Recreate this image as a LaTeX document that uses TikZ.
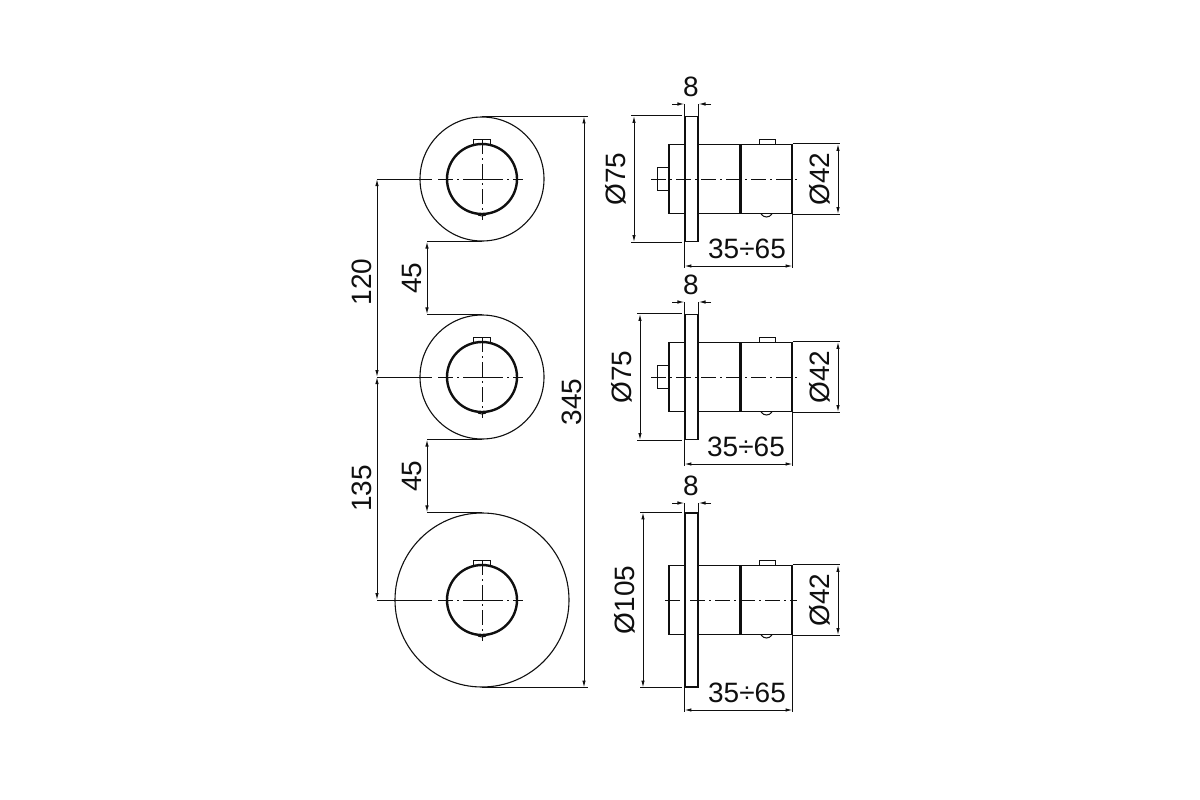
\documentclass[tikz,border=0pt]{standalone}
\usepackage{fontspec}
\setmainfont{Liberation Sans}
\usetikzlibrary{arrows.meta, positioning, calc}
\definecolor{lineblack}{HTML}{0F0F0F}
\begin{document}
\begin{tikzpicture}[
  x=1pt, y=-1pt,
  every node/.style={font=\fontsize{28}{30}\selectfont, text=lineblack, inner sep=0pt},
  plate/.style={circle, draw=lineblack, line width=1.1pt, minimum size=#1},
  knob/.style={circle, draw=lineblack, line width=2.4pt, minimum size=70pt},
  flange/.style={rectangle, draw=lineblack, line width=1.1pt, fill=white, minimum width=13pt, minimum height=#1},
  hub/.style={rectangle, draw=lineblack, line width=1.1pt, minimum width=123pt, minimum height=69pt},
  thin line/.style={draw=lineblack, line width=1pt},
  center line/.style={draw=lineblack, line width=1pt, dash pattern=on 15pt off 4pt on 2pt off 4pt},
  dim line/.style={draw=lineblack, line width=1pt, {Latex[length=7pt,width=3.5pt]}-{Latex[length=7pt,width=3.5pt]}},
  tip line/.style={draw=lineblack, line width=1pt, -{Latex[length=7pt,width=3.5pt]}},
]
\useasboundingbox (0,0) rectangle (1200,800);

% front views
\foreach \n/\cy/\d in {a/179/124pt, b/377/124pt, c/600/174pt}{
  \node[plate=\d] (\n-plate) at (482,\cy) {};
  \node[knob] (\n-knob) at (482,\cy) {};
  \draw[thin line] (473,\cy-33) -- (473,\cy-40) -- (490,\cy-40) -- (490,\cy-33);
  \draw[thin line] (476,\cy+34) .. controls (479,\cy+38) and (485,\cy+38) .. (488,\cy+34);
  \draw[center line] (\n-knob.center) ++(0,-40) -- ++(0,81);
  \draw[thin line] (377,\cy) -- (432,\cy);
  \draw[center line] (438,\cy) -- (523,\cy);
  \draw[thin line] (472,\cy) -- (492,\cy);
}

% overall and pitch dimensions
\coordinate (d345) at (584,400);
\coordinate (d120) at (377,400);
\coordinate (d45) at (427,400);
\draw[thin line] (a-plate.north) -- ++(106,0);
\draw[thin line] (c-plate.south) -- ++(106,0);
\draw[dim line] (a-plate.north -| d345) -- (c-plate.south -| d345) node[midway, left=2pt, rotate=90, anchor=south] (t345) {345};
\draw[dim line] (a-plate.center -| d120) -- (b-plate.center -| d120) node[pos=0.52, rotate=90, anchor=south, yshift=5pt] (t120) {120};
\draw[dim line] (b-plate.center -| d120) -- (c-plate.center -| d120) node[midway, rotate=90, anchor=south, yshift=5pt] (t135) {135};

\draw[thin line] (a-plate.south) -- (a-plate.south -| d45);
\draw[thin line] (b-plate.north) -- (b-plate.north -| d45);
\draw[thin line] (b-plate.south) -- (b-plate.south -| d45);
\draw[thin line] (c-plate.north) -- (c-plate.north -| d45);
\draw[dim line] (a-plate.south -| d45) -- (b-plate.north -| d45) node[midway, rotate=90, anchor=south, yshift=5pt] (t45a) {45};
\draw[dim line] (b-plate.south -| d45) -- (c-plate.north -| d45) node[midway, rotate=90, anchor=south, yshift=5pt] (t45b) {45};

% side views
\foreach \n/\cy/\h/\lab/\labx/\dimx/\ytop/\ybot/\cstart/\tx in {
    s1/179/125pt/Ø75/616/634/104/266/651/747,
    s2/377/125pt/Ø75/622/640/302/464/651/746,
    s3/600/174pt/Ø105/625/643/503/710/665/747}{
  \node[hub] (\n-hub) at (730.5,\cy) {};
  \node[flange=\h] (\n-fl) at (691.5,\cy) {};
  \draw[draw=lineblack, line width=3pt] (740,\cy-34.5) -- (740,\cy+34.5);
  \draw[draw=lineblack, line width=2pt] (792,\cy-34.5) -- (792,\cy+34.5);
  % knob on top and bottom
  \draw[thin line] (759,\cy-35) -- (759,\cy-40) -- (775,\cy-40) -- (775,\cy-35);
  \draw[thin line] (761,\cy+35) .. controls (764,\cy+39) and (769,\cy+39) .. (772,\cy+35);
  \draw[center line] (\cstart,\cy) -- (797,\cy);

  \coordinate (\n-dl) at (\dimx,\cy);
  \coordinate (\n-dr) at (838,\cy);
  \coordinate (\n-dt) at (691,\ytop);
  \coordinate (\n-db) at (691,\ybot);

  % thickness
  \draw[thin line] (\n-fl.north west) -- (\n-fl.north west |- \n-dt);
  \draw[thin line] (\n-fl.north east) -- (\n-fl.north east |- \n-dt);
  \draw[tip line] (672,\ytop) -- (\n-fl.north west |- \n-dt);
  \draw[tip line] (711,\ytop) -- (\n-fl.north east |- \n-dt);
  \node[above=7pt of \n-dt] (\n-t8) {8};

  % plate diameter
  \draw[thin line] (\n-fl.north west -| \n-dl) ++(-3,0) -- ([xshift=-2pt]\n-fl.north west);
  \draw[thin line] (\n-fl.south west -| \n-dl) ++(-3,0) -- ([xshift=-2pt]\n-fl.south west);
  \draw[dim line] (\n-fl.north west -| \n-dl) -- (\n-fl.south west -| \n-dl);
  \node[rotate=90] (\n-tp) at (\labx,\cy) {\lab};

  % handle diameter
  \draw[thin line] (\n-hub.north east) -- (\n-hub.north east -| \n-dr) -- ++(2,0);
  \draw[thin line] (\n-hub.south east) -- (\n-hub.south east -| \n-dr) -- ++(2,0);
  \draw[dim line] (\n-hub.north east -| \n-dr) -- (\n-hub.south east -| \n-dr);
  \node[rotate=90] (\n-tk) at (820,\cy) {Ø42};

  % projection
  \draw[thin line] (\n-fl.south west) -- (\n-fl.south west |- \n-db) -- ++(0,2);
  \draw[thin line] ([yshift=3pt]\n-hub.south east) -- (\n-hub.south east |- \n-db) -- ++(0,2);
  \draw[dim line] (\n-fl.south west |- \n-db) -- (\n-hub.south east |- \n-db);
  \node (\n-tr) at (\tx,\ybot-17.5) {35÷65};
}

% rear spigot
\foreach \n/\cy in {s1/179, s2/377}{
  \draw[thin line] (669,\cy-11.5) -- (657,\cy-11.5) -- (657,\cy+11.5) -- (669,\cy+11.5);
}
\end{tikzpicture}
\end{document}
